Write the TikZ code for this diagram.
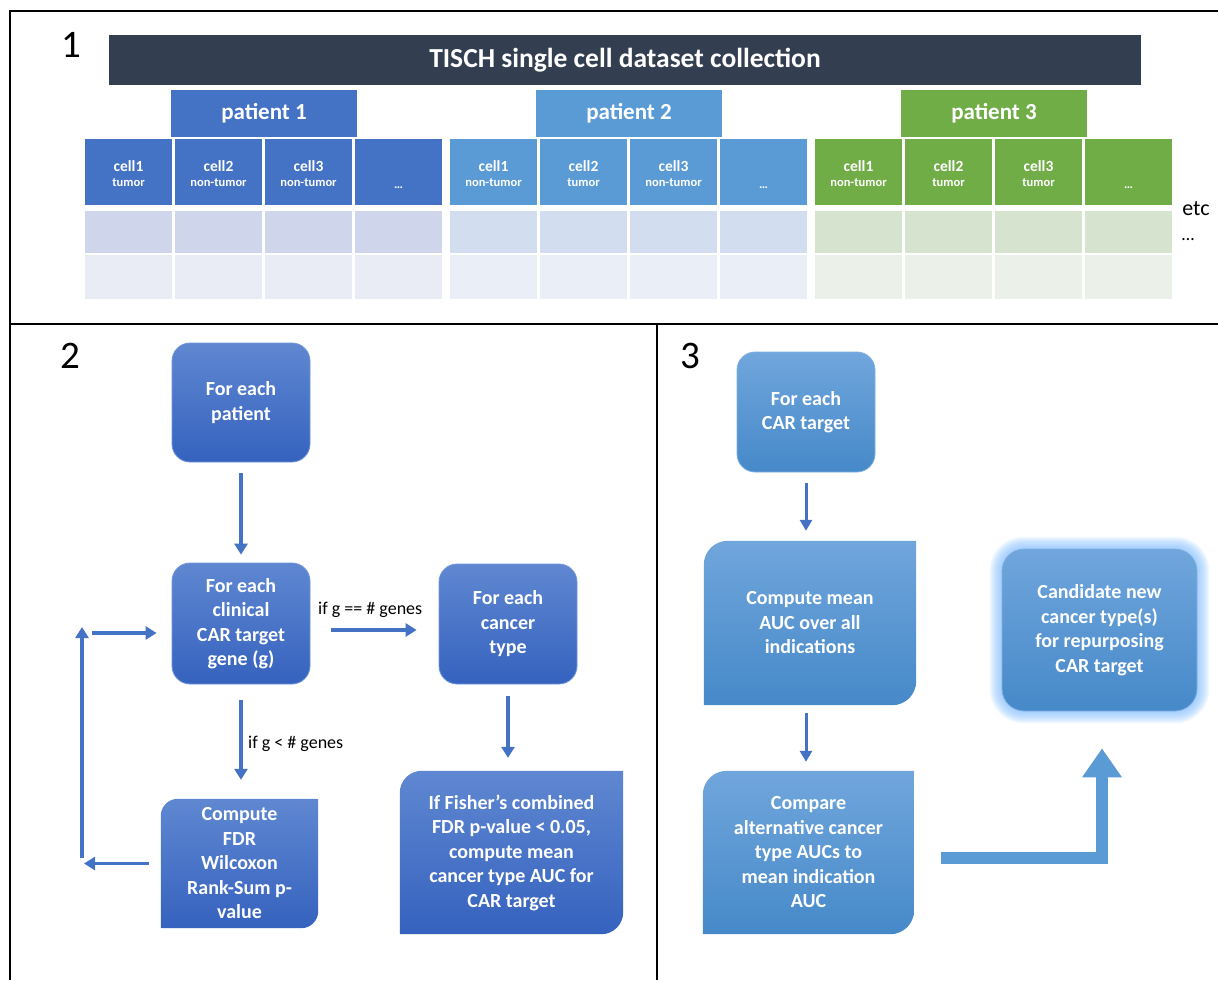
\documentclass[tikz,border=0pt]{standalone}
\usepackage{fontspec}
\setmainfont{Carlito}
\usetikzlibrary{arrows.meta,calc}
\definecolor{titlec}{HTML}{333F50}
\definecolor{pc1}{HTML}{4472C4}
\definecolor{pc2}{HTML}{5B9BD5}
\definecolor{pc3}{HTML}{70AD47}
\definecolor{ra1}{HTML}{CFD5EA}
\definecolor{rb1}{HTML}{E9EBF5}
\definecolor{ra2}{HTML}{D2DEEF}
\definecolor{rb2}{HTML}{EAEFF7}
\definecolor{ra3}{HTML}{D5E3CF}
\definecolor{rb3}{HTML}{EBF1E9}
\definecolor{btop}{HTML}{5F87D1}
\definecolor{bbot}{HTML}{3562BE}
\definecolor{bline}{HTML}{7296DA}
\definecolor{ctop}{HTML}{70A6DC}
\definecolor{cbot}{HTML}{4689C9}
\definecolor{cline}{HTML}{80B0E0}
\definecolor{arrc}{HTML}{4472C4}
\definecolor{larrc}{HTML}{5B9BD5}
\definecolor{glowc}{HTML}{86C2FF}
\pgfdeclarelayer{bg}
\pgfdeclarelayer{paper}
\pgfsetlayers{paper,bg,main}
\newcommand\diagshape[5]{% node, radius, control, top, bottom
\begin{pgfonlayer}{bg}
\path[top color=#4, bottom color=#5] let \p1=(#1.north west), \p2=(#1.south east) in
 (\x1,\y2) -- (\x1,\y1-#2) .. controls (\x1,\y1-#3) and (\x1+#3,\y1) .. (\x1+#2,\y1)
 -- (\x2,\y1) -- (\x2,\y2+#2) .. controls (\x2,\y2+#3) and (\x2-#3,\y2) .. (\x2-#2,\y2) -- cycle;
\end{pgfonlayer}}
\begin{document}
\begin{tikzpicture}[x=1pt,y=-1pt,
  boxtxt/.style={font=\fontsize{20}{24.5}\selectfont\bfseries, text=white, align=center, inner sep=0pt},
  rbox/.style={boxtxt, rounded corners=18pt, top color=btop, bottom color=bbot, draw=bline, line width=0.8pt},
  rboxc/.style={boxtxt, rounded corners=18pt, top color=ctop, bottom color=cbot, draw=cline, line width=0.8pt},
  patbox/.style={minimum width=186pt, minimum height=47pt, inner sep=0pt, text=white, font=\fontsize{23}{26}\selectfont\bfseries},
  cellh/.style={minimum width=87pt, minimum height=66pt, inner sep=0pt},
  cellr/.style={minimum width=87pt, inner sep=0pt},
  ctxa/.style={text=white, inner sep=0pt, font=\fontsize{15.5}{16}\selectfont\bfseries},
  ctxb/.style={text=white, inner sep=0pt, font=\fontsize{12.5}{13}\selectfont\bfseries},
  lbl/.style={inner sep=0pt, font=\fontsize{18}{20}\selectfont},
  num/.style={inner sep=0pt, font=\fontsize{39}{40}\selectfont},
  arr2/.style={draw=arrc, line width=3.5pt, -{Triangle[length=11pt,width=13pt]}},
  arr3/.style={draw=arrc, line width=3pt, -{Triangle[length=11pt,width=12pt]}},
  bigarr/.style={draw=larrc, line width=12pt, line join=miter, -{Triangle[length=29pt,width=38pt]}}
]
\useasboundingbox (0,0) rectangle (1218,980);
\begin{pgfonlayer}{paper}
\fill[white] (0,0) rectangle (1218,980);
\end{pgfonlayer}
% frames
\draw[line width=2pt] (10,980) -- (10,11) -- (1218,11);
\draw[line width=2pt] (10,324) -- (1218,324);
\draw[line width=2pt] (657,324) -- (657,980);
% panel numbers
\node[num, anchor=base] (n1) at (71,57) {1};
\node[num, anchor=base] (n2) at (70,368) {2};
\node[num, anchor=base] (n3) at (690,368) {3};
% panel 1
\node[fill=titlec, minimum width=1032pt, minimum height=50pt, inner sep=0pt, text=white, font=\fontsize{27.5}{29}\selectfont\bfseries] (title) at (625,60) {TISCH single cell dataset collection};
\foreach \p/\gx/\la/\lb/\lc in {1/85/tumor/non-tumor/non-tumor, 2/450/non-tumor/tumor/non-tumor, 3/815/non-tumor/tumor/tumor}{
  \node[patbox, fill=pc\p] (pat\p) at ({\gx+179},113.5) {patient \p};
  \foreach \i/\lab in {1/\la,2/\lb,3/\lc}{
    \node[cellh, fill=pc\p] (c\p-\i) at ({\gx+43.5+(\i-1)*90},172) {};
    \node[ctxa, anchor=base] (t\p-\i-a) at ({\gx+43.5+(\i-1)*90},171) {cell\i};
    \node[ctxb, anchor=base] (t\p-\i-b) at ({\gx+43.5+(\i-1)*90},186) {\lab};
  }
  \node[cellh, fill=pc\p] (c\p-4) at ({\gx+43.5+270},172) {};
  \node[ctxb, anchor=base] (t\p-4) at ({\gx+43.5+270},188) {…};
  \foreach \i in {1,...,4}{
    \node[cellr, minimum height=42pt, fill=ra\p] (r\p-\i-a) at ({\gx+43.5+(\i-1)*90},232) {};
    \node[cellr, minimum height=44pt, fill=rb\p] (r\p-\i-b) at ({\gx+43.5+(\i-1)*90},277) {};
  }
}
\node[inner sep=0pt, font=\fontsize{22}{24}\selectfont, anchor=base] (etc) at (1196,215) {etc};
\node[inner sep=0pt, font=\fontsize{18}{20}\selectfont, anchor=base] (etcd) at (1188,240) {…};
% panel 2
\node[rbox, minimum width=138pt, minimum height=119pt] (pa) at (241,402.5) {For each\\patient};
\node[rbox, minimum width=138pt, minimum height=121pt] (ga) at (241,623.5) {For each\\clinical\\CAR target\\gene (g)};
\node[rbox, minimum width=138pt, minimum height=120pt] (ct) at (508,624) {For each\\cancer\\type};
\node[boxtxt, minimum width=157pt, minimum height=129pt] (cf) at (239.5,863.5) {Compute\\FDR\\Wilcoxon\\Rank-Sum p-\\value};
\diagshape{cf}{17pt}{7.6pt}{btop}{bbot}
\node[boxtxt, minimum width=223pt, minimum height=163pt] (fi) at (511.5,852.5) {If Fisher’s combined\\FDR p-value < 0.05,\\compute mean\\cancer type AUC for\\CAR target};
\diagshape{fi}{22pt}{9.8pt}{btop}{bbot}
\draw[arr2, shorten <=11pt, shorten >=8pt] (pa) -- (ga);
\draw[arr2] ([yshift=-16pt]ga.south) -- ([yshift=19pt]ga.south |- cf.north);
\node[lbl, anchor=base west] (lg1) at (248,748) {if g < \# genes};
\draw[arr2] ([xshift=21pt,yshift=-6.5pt]ga.east) -- ([xshift=-22pt,yshift=-6.5pt]ga.east -| ct.west);
\node[lbl, anchor=base west] (lg2) at (318,614) {if g == \# genes};
\draw[arr2] ([yshift=-12pt]ct.south) -- ([yshift=13pt]ct.south |- fi.north);
\coordinate (fbA) at (84,863.5);
\coordinate (fbB) at (82,858);
\coordinate (fbC) at (82,627);
\coordinate (fbD) at (92,633);
\draw[arr2] ([xshift=-12pt]cf.west) -- (fbA);
\draw[arr2] (fbB) -- (fbC);
\draw[arr2] (fbD) -- ([xshift=-15pt]fbD -| ga.west);
% panel 3
\node[rboxc, minimum width=138pt, minimum height=120pt] (car) at (806,412) {For each\\CAR target};
\node[boxtxt, minimum width=212pt, minimum height=164pt] (cm) at (810,623) {Compute mean\\AUC over all\\indications};
\diagshape{cm}{24pt}{10.7pt}{ctop}{cbot}
\node[boxtxt, minimum width=211pt, minimum height=163pt] (cmp) at (808.5,852.5) {Compare\\alternative cancer\\type AUCs to\\mean indication\\AUC};
\diagshape{cmp}{24pt}{10.7pt}{ctop}{cbot}
\node[rboxc, rounded corners=22pt, minimum width=195pt, minimum height=162pt] (cand) at (1099.5,630) {Candidate new\\cancer type(s)\\for repurposing\\CAR target};
\begin{pgfonlayer}{bg}
\foreach \g in {12,11,...,1}{
  \fill[glowc, opacity=0.09, rounded corners={(22+\g)*1pt}] ($(cand.north west)+(-\g,-\g)$) rectangle ($(cand.south east)+(\g,\g)$);
}
\end{pgfonlayer}
\draw[arr3] ([yshift=-11pt]car.south) -- ([yshift=10pt]car.south |- cm.north);
\draw[arr3] ([yshift=-8pt]car.south |- cm.south) -- ([yshift=9pt]car.south |- cmp.north);
\coordinate (Lc) at (1102,858);
\draw[bigarr] ([xshift=27pt]cmp.east |- Lc) -- (Lc) -- ([yshift=-37pt]Lc |- cand.south);
\end{tikzpicture}
\end{document}
